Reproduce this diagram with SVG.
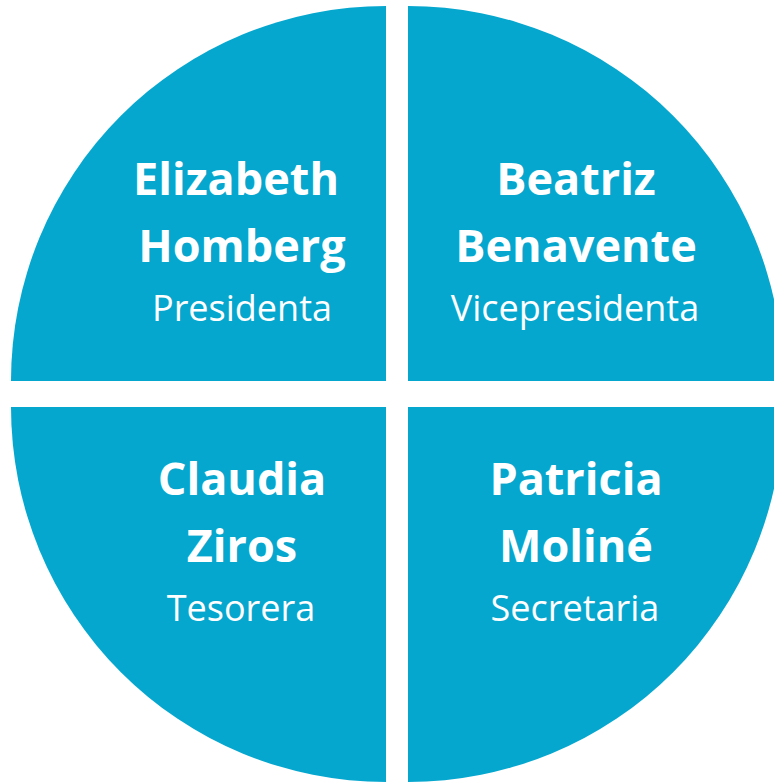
<svg xmlns="http://www.w3.org/2000/svg" width="774" height="783" viewBox="0 0 774 783">
<style>
.q{fill:#05A7CF}
.n{font-family:"Open Sans","Liberation Sans",sans-serif;font-weight:700;font-size:45px;fill:#fff;text-anchor:middle}
.r{font-family:"Open Sans","Liberation Sans",sans-serif;font-weight:400;font-size:36px;fill:#fff;text-anchor:middle}
</style>
<rect width="774" height="783" fill="#fff"/>
<g id="presidenta">
<path class="q" d="M386,381 L11,381 A375,375 0 0 1 386,6 Z"/>
<text class="n" x="236" y="195">Elizabeth</text>
<text class="n" x="242" y="262">Homberg</text>
<text class="r" x="242" y="321">Presidenta</text>
</g>
<g id="vicepresidenta">
<path class="q" d="M408,381 L408,6 A375,375 0 0 1 783,381 Z"/>
<text class="n" x="576" y="195">Beatriz</text>
<text class="n" x="576" y="262">Benavente</text>
<text class="r" x="575" y="321">Vicepresidenta</text>
</g>
<g id="tesorera">
<path class="q" d="M386,407 L386,782 A375,375 0 0 1 11,407 Z"/>
<text class="n" x="242" y="495">Claudia</text>
<text class="n" x="242" y="562">Ziros</text>
<text class="r" x="241" y="621">Tesorera</text>
</g>
<g id="secretaria">
<path class="q" d="M408,407 L783,407 A375,375 0 0 1 408,782 Z"/>
<text class="n" x="576" y="495">Patricia</text>
<text class="n" x="576" y="562">Moliné</text>
<text class="r" x="575" y="621">Secretaria</text>
</g>
<g id="connectors"/>
</svg>
